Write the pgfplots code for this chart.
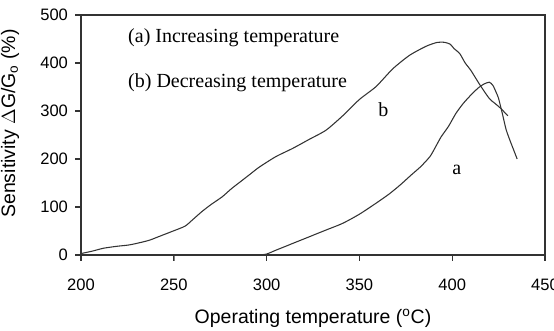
\documentclass[border=0pt]{standalone}
\usepackage{fontspec}
\setmainfont{Liberation Serif}
\setsansfont{Liberation Sans}
\usepackage{pgfplots}
\pgfplotsset{compat=1.18}
\begin{document}
\begin{tikzpicture}
\path[use as bounding box] (-60.75pt,-56.25pt) rectangle (354.75pt,191.25pt);
\begin{axis}[
  at={(0,0)}, anchor=south west,
  scale only axis, width=348pt, height=180pt,
  xmin=200, xmax=450, ymin=0, ymax=500,
  xtick={200,250,300,350,400,450}, ytick={0,100,200,300,400,500},
  tick align=outside, xtick pos=left, ytick pos=left,
  /pgf/number format/assume math mode=true,
  ticklabel style={font=\sffamily\fontsize{12.4}{14}\selectfont},
  xticklabel style={yshift=-10pt},
  yticklabel style={xshift=-2pt},
  xlabel={Operating temperature (\textsuperscript{o}C)},
  ylabel={Sensitivity $\Delta$G/G\textsubscript{o} (\%)},
  label style={font=\sffamily\fontsize{14.6}{16}\selectfont},
  xlabel style={at={(axis description cs:0.5,-0.2625)}, anchor=center},
  ylabel style={at={(axis description cs:-0.153,0.548)}, anchor=center},
  clip=false,
]
% axis frame, drawn as a plot of the axis limits
\addplot[black!80, line width=0.8pt] coordinates {
(200,0) (450,0) (450,500) (200,500) (200,0)
};
% outward tick marks on the bottom and left axes
\addplot[black!80, only marks, mark=|, mark size=2.25pt,
  mark options={line width=0.8pt, yshift=-2.25pt}] coordinates {
(200,0) (250,0) (300,0) (350,0) (400,0) (450,0)
};
\addplot[black!80, only marks, mark=-, mark size=2.25pt,
  mark options={line width=0.8pt, xshift=-2.25pt}] coordinates {
(200,0) (200,100) (200,200) (200,300) (200,400) (200,500)
};
% curve b: decreasing temperature
\addplot[black!80, line width=0.8pt, smooth, tension=0.4] coordinates {
(200,3) (206,8) (212,14) (219,18) (226,21) (232,26) (237,31) (243,40)
(249,49) (256,60) (260,73) (265,90) (270,105) (276,121) (281,138)
(286,153) (291,168) (296,183) (305,205) (314,222) (323,241) (332,260)
(341,290) (350,324) (359,351) (368,388) (377,416) (386,435) (392,443)
(396,443) (399,439) (401,430) (404,420) (407,400) (410,385) (415,354)
(420,326) (423,316) (426,306) (430,290)
};
% curve a: increasing temperature
\addplot[black!80, line width=0.8pt, smooth, tension=0.4] coordinates {
(296,0) (300,2) (305,10) (314,24) (323,38) (332,52) (341,66) (350,85)
(359,108) (366,127) (372,146) (378,167) (383,184) (388,205) (391,225)
(394,246) (398,268) (402,295) (406,316) (410,333) (414,348) (417,356)
(420,360) (422,353) (424,336) (425,326) (427,295) (429,262) (431,240)
(433,220) (435,200)
};
\node[anchor=west, inner sep=0, font=\fontsize{15}{17}\selectfont] at (axis cs:225.3,452) {(a) Increasing temperature};
\node[anchor=west, inner sep=0, font=\fontsize{15}{17}\selectfont] at (axis cs:225.3,359) {(b) Decreasing temperature};
\node[font=\fontsize{15}{17}\selectfont] at (axis cs:362.9,302) {b};
\node[font=\fontsize{15}{17}\selectfont] at (axis cs:402.5,177) {a};
\end{axis}
\end{tikzpicture}
\end{document}
